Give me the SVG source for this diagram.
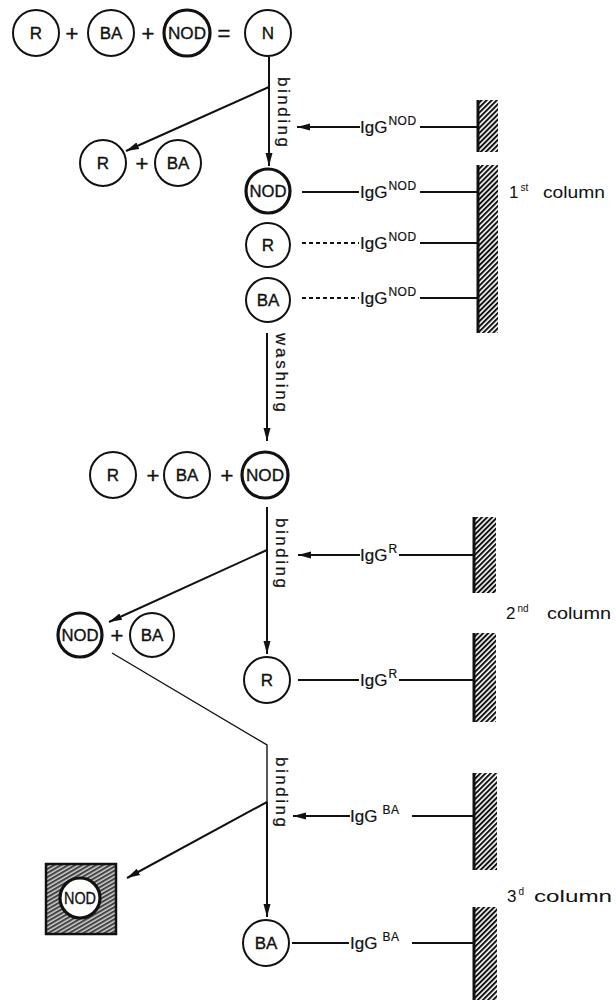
<svg xmlns="http://www.w3.org/2000/svg" width="616" height="1003" viewBox="0 0 616 1003">
<style>
.c{fill:#fff;stroke:#111;stroke-width:2}
.ct{fill:#fff;stroke:#111;stroke-width:3.2}
.lb{font-family:"Liberation Sans",Arial,sans-serif;font-size:17px;fill:#111;stroke:#111;stroke-width:0.35;text-anchor:middle}
.op{font-family:"Liberation Sans",Arial,sans-serif;font-size:22px;fill:#111;stroke:#111;stroke-width:0.4;text-anchor:middle}
.ig{font-family:"Liberation Sans",Arial,sans-serif;font-size:17px;fill:#111;stroke:#111;stroke-width:0.2}
.sup{font-size:12px;letter-spacing:0.5px}
.rot{font-family:"Liberation Sans",Arial,sans-serif;font-size:17px;fill:#111;stroke:#111;stroke-width:0.2}
.col{font-family:"Liberation Sans",Arial,sans-serif;font-size:17px;fill:#111}
.ln{stroke:#111;stroke-width:2;fill:none}
.thin{stroke:#111;stroke-width:1.4;fill:none}
.dash{stroke:#111;stroke-width:2;fill:none;stroke-dasharray:4 3}
.arr{stroke:#111;stroke-width:2;fill:none;marker-end:url(#ah)}
.wall{fill:url(#hatch)}
.edge{stroke:#111;stroke-width:3}
</style>
<defs>
<marker id="ah" markerUnits="userSpaceOnUse" markerWidth="14" markerHeight="8" refX="13" refY="4" orient="auto">
<path d="M0,0.5 L13,4 L0,7.5 Z" fill="#111"/>
</marker>
<pattern id="hatch" patternUnits="userSpaceOnUse" width="3.6" height="10" patternTransform="rotate(45)">
<line x1="1" y1="0" x2="1" y2="10" stroke="#111" stroke-width="2"/>
</pattern>
<pattern id="hatch2" patternUnits="userSpaceOnUse" width="3.5" height="10" patternTransform="rotate(60)">
<rect width="3.5" height="10" fill="#444"/>
<line x1="1" y1="0" x2="1" y2="10" stroke="#fff" stroke-width="1.1"/>
</pattern>
</defs>

<!-- connectors -->
<g id="connectors">
<line class="ln" x1="269" y1="57" x2="269" y2="87"/>
<line class="arr" x1="269" y1="87" x2="269" y2="166"/>
<line class="arr" x1="269" y1="87" x2="126" y2="151"/>
<line class="arr" x1="360" y1="127" x2="297" y2="127"/>
<line class="ln" x1="420" y1="127" x2="477" y2="127"/>
<line class="ln" x1="302" y1="192" x2="359" y2="192"/>
<line class="ln" x1="420" y1="192" x2="477" y2="192"/>
<line class="dash" x1="302" y1="243" x2="359" y2="243"/>
<line class="ln" x1="420" y1="243" x2="477" y2="243"/>
<line class="dash" x1="302" y1="298" x2="359" y2="298"/>
<line class="ln" x1="420" y1="298" x2="477" y2="298"/>
<line class="arr" x1="267" y1="333" x2="267" y2="441"/>
<line class="ln" x1="267" y1="507" x2="267" y2="550"/>
<line class="arr" x1="267" y1="550" x2="267" y2="654"/>
<line class="arr" x1="267" y1="550" x2="109" y2="622"/>
<line class="arr" x1="360" y1="555" x2="298" y2="555"/>
<line class="ln" x1="399" y1="555" x2="473" y2="555"/>
<line class="ln" x1="298" y1="680" x2="359" y2="680"/>
<line class="ln" x1="399" y1="680" x2="473" y2="680"/>
<polyline class="thin" points="112,653 267,745 267,802"/>
<line class="arr" x1="267" y1="802" x2="267" y2="917"/>
<line class="arr" x1="267" y1="802" x2="127" y2="878"/>
<line class="arr" x1="350" y1="816" x2="293" y2="816"/>
<line class="ln" x1="412" y1="816" x2="473" y2="816"/>
<line class="ln" x1="292" y1="943" x2="349" y2="943"/>
<line class="ln" x1="412" y1="943" x2="473" y2="943"/>
<text class="rot" transform="translate(278,77) rotate(90)" textLength="70" lengthAdjust="spacing">binding</text>
<text class="rot" transform="translate(276,333) rotate(90)" textLength="79" lengthAdjust="spacing">washing</text>
<text class="rot" transform="translate(276,518) rotate(90)" textLength="70" lengthAdjust="spacing">binding</text>
<text class="rot" transform="translate(276,757) rotate(90)" textLength="70" lengthAdjust="spacing">binding</text>
<text class="ig" x="360" y="133">IgG<tspan class="sup" dx="1" dy="-8">NOD</tspan></text>
<text class="ig" x="360" y="198">IgG<tspan class="sup" dx="1" dy="-8">NOD</tspan></text>
<text class="ig" x="360" y="249">IgG<tspan class="sup" dx="1" dy="-8">NOD</tspan></text>
<text class="ig" x="360" y="304">IgG<tspan class="sup" dx="1" dy="-8">NOD</tspan></text>
<text class="ig" x="360" y="561">IgG<tspan class="sup" dx="1" dy="-8">R</tspan></text>
<text class="ig" x="360" y="686">IgG<tspan class="sup" dx="1" dy="-8">R</tspan></text>
<text class="ig" x="350" y="822">IgG<tspan class="sup" dx="5" dy="-8">BA</tspan></text>
<text class="ig" x="350" y="949">IgG<tspan class="sup" dx="5" dy="-8">BA</tspan></text>
</g>

<!-- columns -->
<g id="column1">
<rect class="wall" x="478" y="100" width="20" height="52"/>
<line class="edge" x1="478" y1="100" x2="478" y2="152"/>
<rect class="wall" x="478" y="165" width="20" height="168"/>
<line class="edge" x1="478" y1="165" x2="478" y2="333"/>
<text class="col" x="509" y="198">1<tspan font-size="10" dy="-7" dx="2">st</tspan><tspan dy="7" x="543" textLength="62" lengthAdjust="spacingAndGlyphs">column</tspan></text>
</g>
<g id="column2">
<rect class="wall" x="474" y="517" width="22" height="76"/>
<line class="edge" x1="474" y1="517" x2="474" y2="593"/>
<rect class="wall" x="474" y="633" width="22" height="89"/>
<line class="edge" x1="474" y1="633" x2="474" y2="722"/>
<text class="col" x="506" y="619">2<tspan font-size="10" dy="-7" dx="2">nd</tspan><tspan dy="7" x="547" textLength="64" lengthAdjust="spacingAndGlyphs">column</tspan></text>
</g>
<g id="column3">
<rect class="wall" x="474" y="773" width="23" height="97"/>
<line class="edge" x1="474" y1="773" x2="474" y2="870"/>
<rect class="wall" x="474" y="907" width="23" height="93"/>
<line class="edge" x1="474" y1="907" x2="474" y2="1000"/>
<text class="col" x="507" y="902">3<tspan font-size="10" dy="-7" dx="2">d</tspan><tspan dy="7" x="534" textLength="78" lengthAdjust="spacingAndGlyphs">column</tspan></text>
</g>

<!-- row 1 -->
<g id="n-R1"><circle class="c" cx="36" cy="33" r="23"/><text class="lb" x="36" y="39">R</text></g>
<text class="op" x="72" y="41">+</text>
<g id="n-BA1"><circle class="c" cx="111" cy="33" r="23"/><text class="lb" x="111" y="39">BA</text></g>
<text class="op" x="148" y="41">+</text>
<g id="n-NOD1"><circle class="ct" cx="187" cy="33" r="23"/><text class="lb" x="187" y="39" textLength="38" lengthAdjust="spacingAndGlyphs">NOD</text></g>
<text class="op" x="224" y="41">=</text>
<g id="n-N"><circle class="c" cx="268" cy="33" r="23"/><text class="lb" x="268" y="39">N</text></g>

<!-- row 2 -->
<g id="n-R2"><circle class="c" cx="103" cy="163" r="23"/><text class="lb" x="103" y="169">R</text></g>
<text class="op" x="142" y="171">+</text>
<g id="n-BA2"><circle class="c" cx="178" cy="163" r="23"/><text class="lb" x="178" y="169">BA</text></g>

<g id="n-NOD2"><circle class="ct" cx="268" cy="191" r="22"/><text class="lb" x="268" y="197" textLength="37" lengthAdjust="spacingAndGlyphs">NOD</text></g>
<g id="n-R3"><circle class="c" cx="268" cy="245" r="22"/><text class="lb" x="268" y="251">R</text></g>
<g id="n-BA3"><circle class="c" cx="268" cy="300" r="22"/><text class="lb" x="268" y="306">BA</text></g>

<!-- row 3 -->
<g id="n-R4"><circle class="c" cx="113" cy="475" r="23"/><text class="lb" x="113" y="481">R</text></g>
<text class="op" x="153" y="483">+</text>
<g id="n-BA4"><circle class="c" cx="187" cy="475" r="23"/><text class="lb" x="187" y="481">BA</text></g>
<text class="op" x="227" y="483">+</text>
<g id="n-NOD4"><circle class="ct" cx="265" cy="475" r="23"/><text class="lb" x="265" y="481" textLength="38" lengthAdjust="spacingAndGlyphs">NOD</text></g>

<!-- row 4 -->
<g id="n-NOD5"><circle class="ct" cx="80" cy="635" r="22"/><text class="lb" x="80" y="641" textLength="37" lengthAdjust="spacingAndGlyphs">NOD</text></g>
<text class="op" x="117" y="643">+</text>
<g id="n-BA5"><circle class="c" cx="152" cy="635" r="22"/><text class="lb" x="152" y="641">BA</text></g>
<g id="n-R5"><circle class="c" cx="267" cy="680" r="23"/><text class="lb" x="267" y="686">R</text></g>

<!-- bottom -->
<g id="n-NODbound">
<rect x="46" y="864" width="70" height="70" fill="url(#hatch2)" stroke="#111" stroke-width="2.5"/>
<circle class="ct" cx="80" cy="898" r="20" stroke-width="2.5"/>
<text class="lb" x="80" y="904" textLength="32" lengthAdjust="spacingAndGlyphs">NOD</text>
</g>
<g id="n-BA6"><circle class="c" cx="266" cy="943" r="23"/><text class="lb" x="266" y="949">BA</text></g>
</svg>
